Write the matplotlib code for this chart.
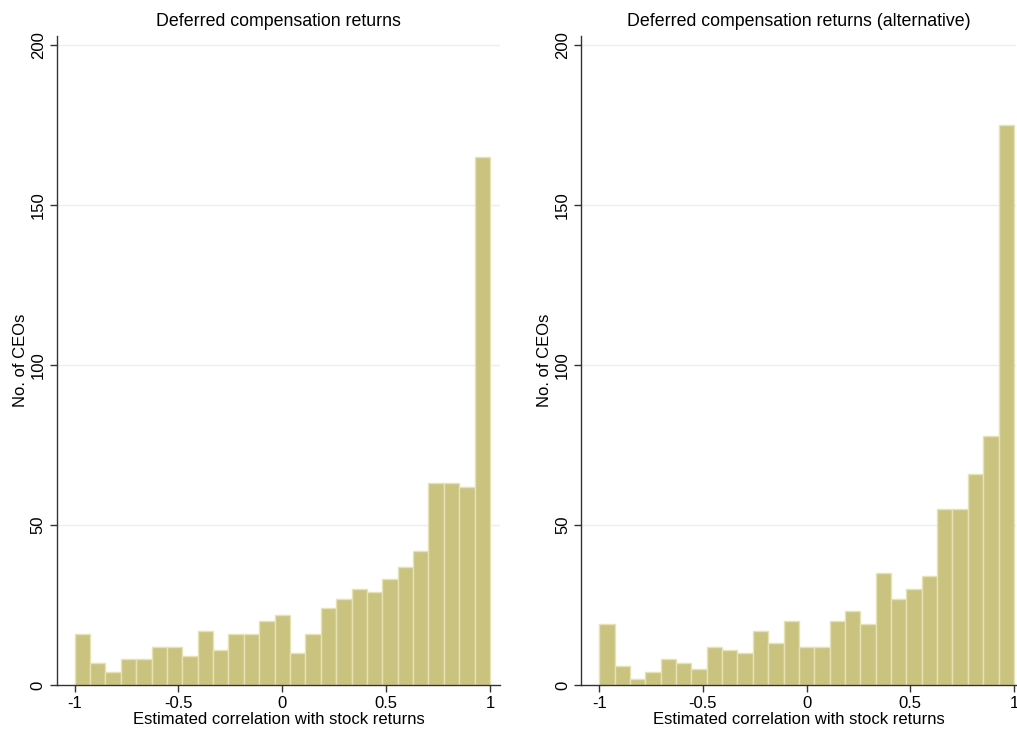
import numpy as np
import matplotlib
matplotlib.use("Agg")
import matplotlib.pyplot as plt

# Histogram counts (27 bins from -1 to 1)
counts_main = [16, 7, 4, 8, 8, 12, 12, 9, 17, 11, 16, 16, 20, 22,
               10, 16, 24, 27, 30, 29, 33, 37, 42, 63, 63, 62, 165]
counts_alt = [19, 6, 2, 4, 8, 7, 5, 12, 11, 10, 17, 13, 20, 12,
              12, 20, 23, 19, 35, 27, 30, 34, 55, 55, 66, 78, 175]

titles = ["Deferred compensation returns",
          "Deferred compensation returns (alternative)"]
x_label = "Estimated correlation with stock returns"
y_label = "No. of CEOs"
x_ticks = [-1, -0.5, 0, 0.5, 1]
x_ticklabels = ["-1", "-0.5", "0", "0.5", "1"]
y_ticks = [0, 50, 100, 150, 200]

plt.rcParams["font.family"] = ["Liberation Sans", "DejaVu Sans"]

BAR = "#c9c37f"
EDGE = "#e6e2b4"
GRID = "#e8f0f1"
AXC = "#333333"

fig = plt.figure(figsize=(10.17, 7.31), dpi=100)
axes = [fig.add_axes([0.056, 0.063, 0.4356, 0.888]),
        fig.add_axes([0.5713, 0.063, 0.4277, 0.888])]
xlims = [(-1.085, 1.048), (-1.088, 1.01)]

edges = np.linspace(-1, 1, len(counts_main) + 1)
width = edges[1] - edges[0]

for ax, counts, title, xl in zip(axes, [counts_main, counts_alt], titles, xlims):
    ax.bar(edges[:-1], counts, width=width, align="edge",
           color=BAR, edgecolor=EDGE, linewidth=1.0, zorder=2)
    ax.set_xlim(*xl)
    ax.set_ylim(0, 203)
    ax.set_yticks(y_ticks)
    ax.set_yticklabels([str(v) for v in y_ticks], rotation=90, va="center")
    ax.set_xticks(x_ticks)
    ax.set_xticklabels(x_ticklabels)
    for v in y_ticks[1:]:
        ax.axhline(v, color=GRID, lw=1.0, zorder=1)
    for s in ["top", "right"]:
        ax.spines[s].set_visible(False)
    for s in ["left", "bottom"]:
        ax.spines[s].set_color(AXC)
        ax.spines[s].set_linewidth(1.0)
    ax.tick_params(direction="out", length=5, width=1, color=AXC,
                   labelsize=12, pad=3)
    ax.set_title(title, fontsize=12.8, pad=7)
    ax.set_xlabel(x_label, fontsize=12, labelpad=1)
    ax.set_ylabel(y_label, fontsize=12, labelpad=2)

fig.savefig("out.png", dpi=100, facecolor="white")
